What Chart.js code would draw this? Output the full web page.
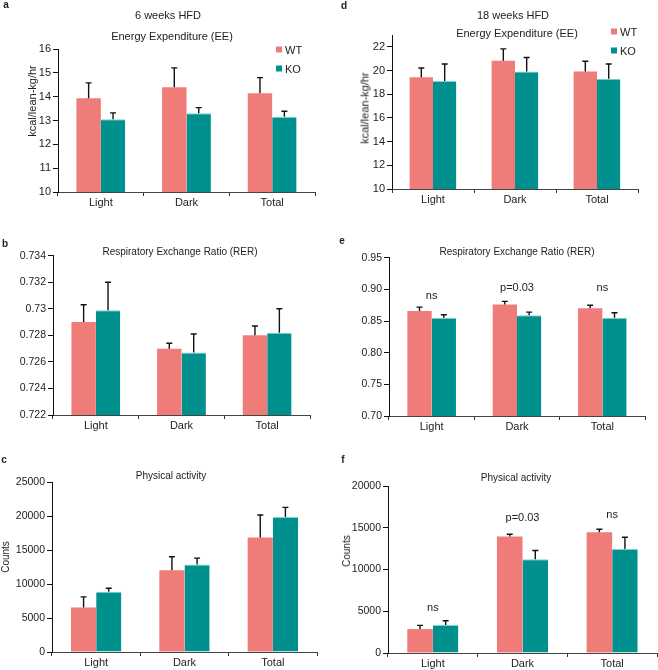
<!DOCTYPE html>
<html>
<head>
<meta charset="utf-8">
<script src="https://cdn.jsdelivr.net/npm/chart.js@4.4.0/dist/chart.umd.min.js"></script>
<style>
    body { margin: 0; background: #fff; width: 658px; height: 670px; position: relative; overflow: hidden;
           font-family: Arial, 'Liberation Sans', Helvetica, sans-serif; color: #222; }
    canvas { position: absolute; }
    .t { position: absolute; transform: translate(-50%, -50%); white-space: nowrap; line-height: 1; font-size: 11px; }
    .s { font-size: 10px; }
    .lt { position: absolute; font-weight: bold; font-size: 10px; line-height: 1; transform: translate(-50%, -50%); }
    .rot { transform: translate(-50%, -50%) rotate(-90deg); }
    .key { position: absolute; font-size: 11px; line-height: 1; transform: translateY(-50%); white-space: nowrap; }
    .key i { display: inline-block; width: 6px; height: 6px; margin-right: 3px; vertical-align: 1px; }
</style>
</head>
<body>
<canvas id="chartA" width="330" height="215" style="left:0;top:0"></canvas>
<canvas id="chartD" width="328" height="215" style="left:330px;top:0"></canvas>
<canvas id="chartB" width="330" height="220" style="left:0;top:215px"></canvas>
<canvas id="chartE" width="328" height="220" style="left:330px;top:215px"></canvas>
<canvas id="chartC" width="330" height="235" style="left:0;top:435px"></canvas>
<canvas id="chartF" width="328" height="235" style="left:330px;top:435px"></canvas>

<div class="lt" style="left:6px;top:5px">a</div>
<div class="t" style="left:168px;top:14.5px">6 weeks HFD</div>
<div class="t" style="left:172px;top:35.5px">Energy Expenditure (EE)</div>
<div class="t rot" style="left:32px;top:101px">kcal/lean-kg/hr</div>
<div class="key" style="left:276px;top:49.5px"><i style="background:#F07C7A"></i>WT</div>
<div class="key" style="left:276px;top:69px"><i style="background:#00918F"></i>KO</div>

<div class="lt" style="left:344px;top:5.5px">d</div>
<div class="t" style="left:513px;top:14.5px">18 weeks HFD</div>
<div class="t" style="left:517px;top:33px">Energy Expenditure (EE)</div>
<div class="t rot" style="left:365px;top:108px">kcal/lean-kg/hr</div>
<div class="key" style="left:611px;top:32px"><i style="background:#F07C7A"></i>WT</div>
<div class="key" style="left:611px;top:51px"><i style="background:#00918F"></i>KO</div>

<div class="lt" style="left:5px;top:244px">b</div>
<div class="t s" style="left:180px;top:252px">Respiratory Exchange Ratio (RER)</div>

<div class="lt" style="left:342px;top:241px">e</div>
<div class="t s" style="left:517px;top:252px">Respiratory Exchange Ratio (RER)</div>

<div class="lt" style="left:4px;top:460px">c</div>
<div class="t s" style="left:171px;top:475.5px">Physical activity</div>
<div class="t s rot" style="left:6px;top:557px">Counts</div>

<div class="lt" style="left:343px;top:459.5px">f</div>
<div class="t s" style="left:516px;top:477.5px">Physical activity</div>
<div class="t s rot" style="left:347px;top:551px">Counts</div>

<script>
const periods = ['Light', 'Dark', 'Total'];

// 6 weeks HFD
const ee6Wt = [13.93, 14.39, 14.14];
const ee6WtSem = [0.65, 0.82, 0.66];
const ee6Ko = [13.05, 13.30, 13.16];
const ee6KoSem = [0.27, 0.24, 0.23];
const ee6Ticks = [10, 11, 12, 13, 14, 15, 16];

const rer6Wt = [0.7290, 0.7270, 0.7280];
const rer6WtSem = [0.0013, 0.0004, 0.0007];
const rer6Ko = [0.7299, 0.7267, 0.7282];
const rer6KoSem = [0.0021, 0.0014, 0.0018];
const rer6Ticks = [0.722, 0.724, 0.726, 0.728, 0.73, 0.732, 0.734];

const act6Wt = [6550, 12060, 16880];
const act6WtSem = [1570, 1970, 3300];
const act6Ko = [8860, 12890, 19880];
const act6KoSem = [540, 940, 1430];
const act6Ticks = [0, 5000, 10000, 15000, 20000, 25000];

// 18 weeks HFD
const ee18Wt = [19.44, 20.83, 19.92];
const ee18WtSem = [0.78, 1.00, 0.86];
const ee18Ko = [19.11, 19.92, 19.30];
const ee18KoSem = [1.44, 1.18, 1.25];
const ee18Ticks = [10, 12, 14, 16, 18, 20, 22];
const ee18AxisTop = 23;

const rer18Wt = [0.866, 0.876, 0.870];
const rer18WtSem = [0.006, 0.005, 0.005];
const rer18Ko = [0.855, 0.859, 0.855];
const rer18KoSem = [0.005, 0.005, 0.008];
const rer18Ticks = [0.70, 0.75, 0.80, 0.85, 0.90, 0.95];
const rer18Notes = ['ns', 'p=0.03', 'ns'];
const rer18NoteAt = [0.885, 0.8975, 0.8975];

const act18Wt = [2870, 13940, 14460];
const act18WtSem = [440, 280, 360];
const act18Ko = [3350, 11240, 12470];
const act18KoSem = [520, 1030, 1400];
const act18Ticks = [0, 5000, 10000, 15000, 20000];
const act18Notes = ['ns', 'p=0.03', 'ns'];
const act18NoteAt = [5060, 15825, 16150];

const WT_COLOR = '#F07C7A';
const KO_COLOR = '#00918F';
const FONT = "Arial, 'Liberation Sans', Helvetica, sans-serif";

// upward-only error bars with a small cap
const errorBars = {
    id: 'errorBars',
    afterDatasetsDraw(chart) {
        const ctx = chart.ctx;
        const y = chart.scales.y;
        ctx.save();
        ctx.strokeStyle = '#111';
        ctx.lineWidth = 1.4;
        chart.data.datasets.forEach((ds, i) => {
            chart.getDatasetMeta(i).data.forEach((bar, j) => {
                const top = y.getPixelForValue(ds.data[j] + ds.sem[j]);
                ctx.beginPath();
                ctx.moveTo(bar.x, bar.y);
                ctx.lineTo(bar.x, top);
                ctx.moveTo(bar.x - 3, top);
                ctx.lineTo(bar.x + 3, top);
                ctx.stroke();
            });
        });
        ctx.restore();
    }
};

const notes = (labels, at) => ({
    id: 'notes',
    afterDatasetsDraw(chart) {
        const ctx = chart.ctx;
        ctx.save();
        ctx.fillStyle = '#222';
        ctx.font = '11px ' + FONT;
        ctx.textAlign = 'center';
        ctx.textBaseline = 'alphabetic';
        labels.forEach((txt, j) => {
            ctx.fillText(txt, chart.scales.x.getPixelForValue(j), chart.scales.y.getPixelForValue(at[j]));
        });
        ctx.restore();
    }
});

const makePanel = (id, p) => {
    const plugins = [errorBars];
    if (p.notes) plugins.push(notes(p.notes, p.noteAt));
    new Chart(document.getElementById(id), {
        type: 'bar',
        data: {
            labels: periods,
            datasets: [
                { label: 'WT', data: p.wt, sem: p.wtSem, backgroundColor: WT_COLOR },
                { label: 'KO', data: p.ko, sem: p.koSem, backgroundColor: KO_COLOR,
                  borderColor: '#7fd2cf', borderWidth: { top: 1, left: 0, right: 0, bottom: 0 } }
            ]
        },
        options: {
            responsive: false,
            animation: false,
            layout: { padding: { top: p.padTop, right: p.padRight, left: 0, bottom: 0 } },
            datasets: { bar: { categoryPercentage: 0.57, barPercentage: 1 } },
            plugins: { legend: { display: false }, tooltip: { enabled: false } },
            scales: {
                x: {
                    grid: { offset: true, drawOnChartArea: false, tickLength: 4, color: '#333' },
                    border: { color: '#444', width: 1 },
                    ticks: { color: '#222', padding: 0, font: { size: 11, family: FONT } },
                    afterFit: (s) => { s.height = p.xh; }
                },
                y: {
                    min: p.ticks[0],
                    max: p.top ?? p.ticks[p.ticks.length - 1],
                    grid: { drawOnChartArea: false, tickLength: 5, color: '#111' },
                    border: { color: '#111', width: 1 },
                    ticks: { color: '#222', padding: 2, font: { size: p.tickSize, family: FONT }, callback: p.fmt },
                    afterBuildTicks: (s) => { s.ticks = p.ticks.map((v) => ({ value: v })); },
                    afterFit: (s) => { s.width = p.yw; }
                }
            }
        },
        plugins
    });
};

const plain = (v) => String(v);

makePanel('chartA', { wt: ee6Wt, wtSem: ee6WtSem, ko: ee6Ko, koSem: ee6KoSem, ticks: ee6Ticks,
    fmt: plain, tickSize: 11, yw: 58, xh: 23, padTop: 49, padRight: 15 });
makePanel('chartD', { wt: ee18Wt, wtSem: ee18WtSem, ko: ee18Ko, koSem: ee18KoSem, ticks: ee18Ticks,
    top: ee18AxisTop, fmt: plain, tickSize: 11, yw: 62, xh: 26, padTop: 35, padRight: 20 });
makePanel('chartB', { wt: rer6Wt, wtSem: rer6WtSem, ko: rer6Ko, koSem: rer6KoSem, ticks: rer6Ticks,
    fmt: (v) => String(+v.toFixed(3)), tickSize: 10.5, yw: 53, xh: 20, padTop: 40.7, padRight: 20 });
makePanel('chartE', { wt: rer18Wt, wtSem: rer18WtSem, ko: rer18Ko, koSem: rer18KoSem, ticks: rer18Ticks,
    fmt: (v) => v.toFixed(2), tickSize: 10.5, yw: 59, xh: 19, padTop: 42.7, padRight: 13,
    notes: rer18Notes, noteAt: rer18NoteAt });
makePanel('chartC', { wt: act6Wt, wtSem: act6WtSem, ko: act6Ko, koSem: act6KoSem, ticks: act6Ticks,
    fmt: plain, tickSize: 10.5, yw: 52, xh: 18, padTop: 47.3, padRight: 13 });
makePanel('chartF', { wt: act18Wt, wtSem: act18WtSem, ko: act18Ko, koSem: act18KoSem, ticks: act18Ticks,
    fmt: plain, tickSize: 10.5, yw: 58, xh: 17, padTop: 51, padRight: 1,
    notes: act18Notes, noteAt: act18NoteAt });
</script>
</body>
</html>
